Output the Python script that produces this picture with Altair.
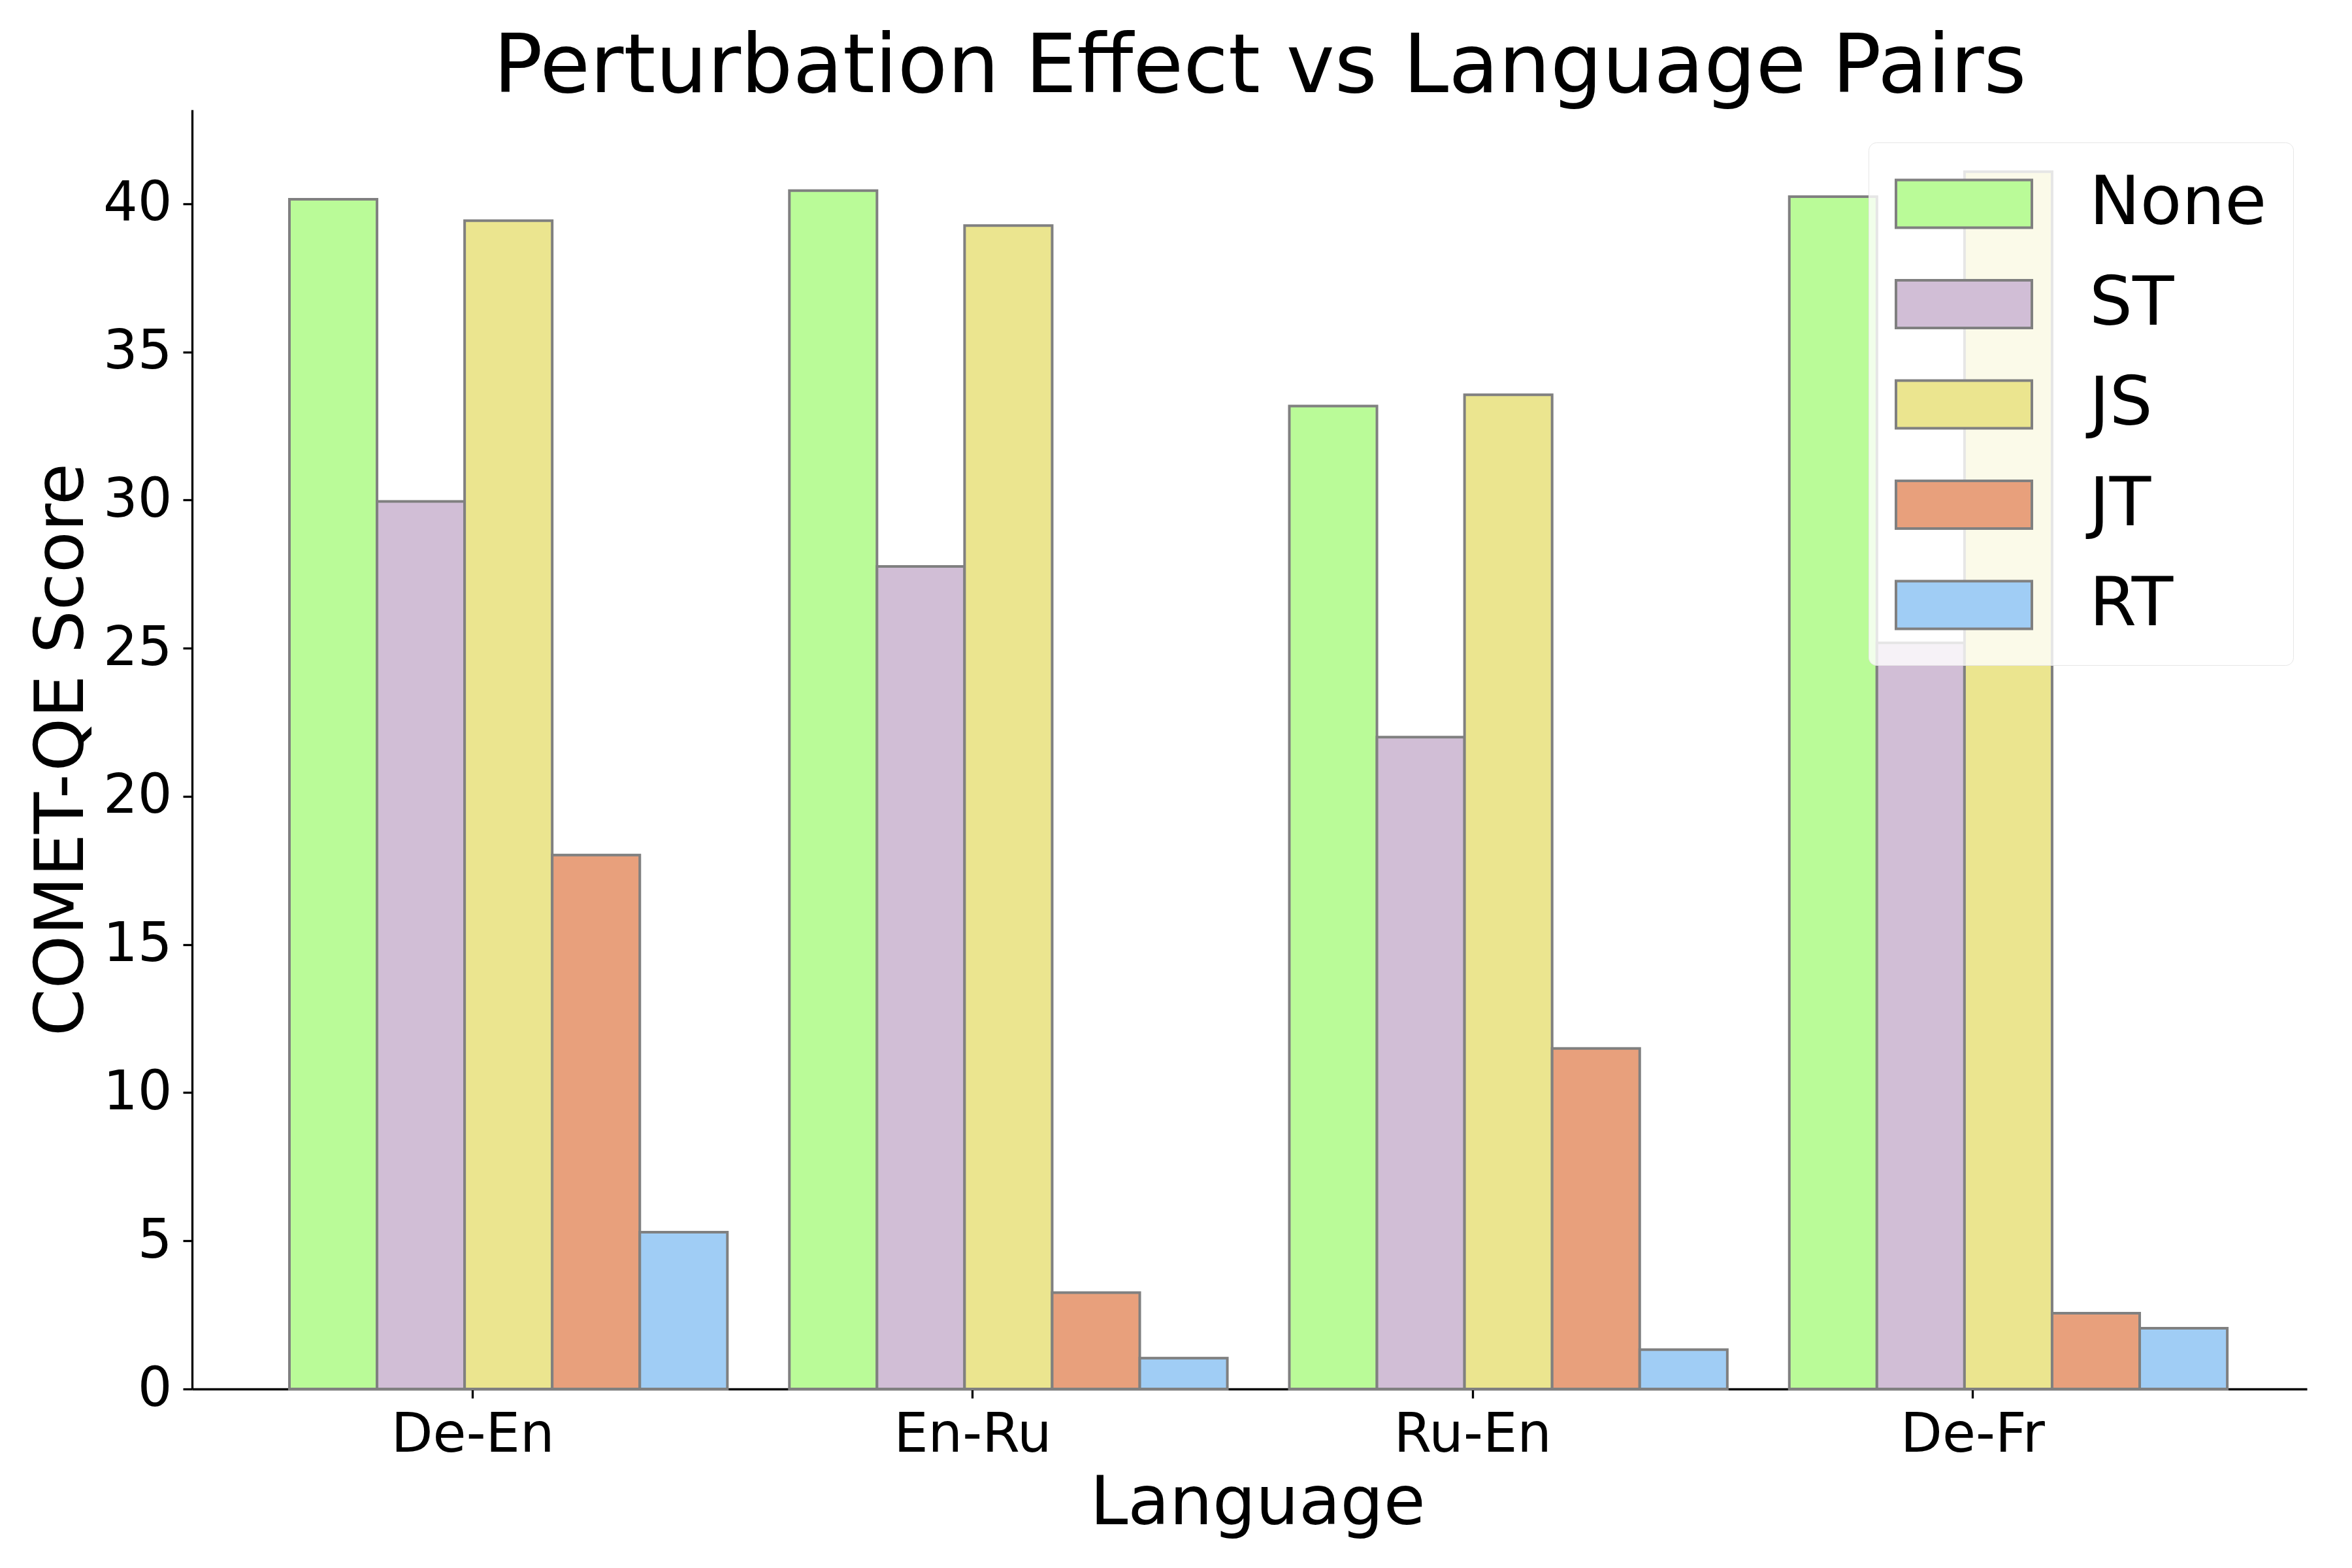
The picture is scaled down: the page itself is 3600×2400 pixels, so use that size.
import altair as alt
import pandas as pd

languages = ["De-En", "En-Ru", "Ru-En", "De-Fr"]
perturbations = ["None", "ST", "JS", "JT", "RT"]
none_vals = [40.15, 40.44, 33.17, 40.24]
st_vals = [29.95, 27.76, 22.0, 25.18]
js_vals = [39.43, 39.26, 33.55, 41.08]
jt_vals = [18.02, 3.25, 11.49, 2.56]
rt_vals = [5.29, 1.04, 1.33, 2.05]
colors = ["#BAFB98", "#D1BED6", "#EBE58F", "#E8A07C", "#A0CDF5"]

series = {"None": none_vals, "ST": st_vals, "JS": js_vals, "JT": jt_vals, "RT": rt_vals}
rows = []
for p in perturbations:
    for lang, v in zip(languages, series[p]):
        rows.append({"Language": lang, "Perturbation": p, "Score": v})
df = pd.DataFrame(rows)

FONT = "DejaVu Sans"
W, H = 3237, 1958
rect_path = "M-1,-0.702H3V0.702H-1Z"

chart = alt.Chart(df).mark_bar(stroke="gray", strokeWidth=4, opacity=1).encode(
    x=alt.X("Language:N", sort=languages,
            scale=alt.Scale(paddingInner=0.124, paddingOuter=0.177, align=0.55),
            axis=alt.Axis(title="Language", labelAngle=0, labelFontSize=83, labelFont=FONT,
                          labelColor="black", labelPadding=15, labelLimit=0, tickSize=14,
                          tickWidth=3.3, tickColor="black", domainColor="black",
                          domainWidth=3.3, tickOffset=-55, titleFontSize=104,
                          titleFont=FONT, titleFontWeight="normal", titleColor="black",
                          titleBaseline="alphabetic", titleY=206, titleX=W / 2 + 12)),
    xOffset=alt.XOffset("Perturbation:N", sort=perturbations,
                        scale=alt.Scale(paddingInner=0, paddingOuter=0)),
    y=alt.Y("Score:Q", scale=alt.Scale(domain=[0, 43.17], nice=False),
            axis=alt.Axis(title="COMET-QE Score", values=list(range(0, 45, 5)), grid=False,
                          labelFontSize=83, labelFont=FONT, labelColor="black", labelPadding=17,
                          tickSize=14, tickWidth=3.3, tickColor="black", domainColor="black",
                          domainWidth=3.3, titleFontSize=104, titleFont=FONT,
                          titleFontWeight="normal", titleColor="black",
                          titleBaseline="alphabetic", titleX=-168, titleY=H / 2)),
    color=alt.Color("Perturbation:N", sort=perturbations,
                    scale=alt.Scale(domain=perturbations, range=colors),
                    legend=alt.Legend(title=None, orient="none", legendX=2566, legendY=50,
                                      symbolType=rect_path, symbolSize=10816,
                                      symbolStrokeColor="gray", symbolStrokeWidth=4,
                                      symbolOpacity=1, labelFontSize=104, labelFont=FONT,
                                      labelColor="black", labelOffset=190, labelLimit=0,
                                      rowPadding=47.5, padding=40,
                                      fillColor="rgba(255,255,255,0.8)",
                                      strokeColor="#e6e6e6", cornerRadius=12)),
).properties(
    width=W, height=H,
    title=alt.TitleParams("Perturbation Effect vs Language Pairs", fontSize=125, font=FONT,
                          fontWeight="normal", color="black", anchor="middle",
                          frame="group", baseline="alphabetic", offset=27, dy=125, dx=16),
    autosize=alt.AutoSizeParams(type="none"),
    padding={"left": 294, "top": 168, "right": 69, "bottom": 274},
    background="white",
).configure_view(stroke=None, strokeWidth=0)

chart.save("out.html", embed_options={"renderer": "svg", "actions": False})
